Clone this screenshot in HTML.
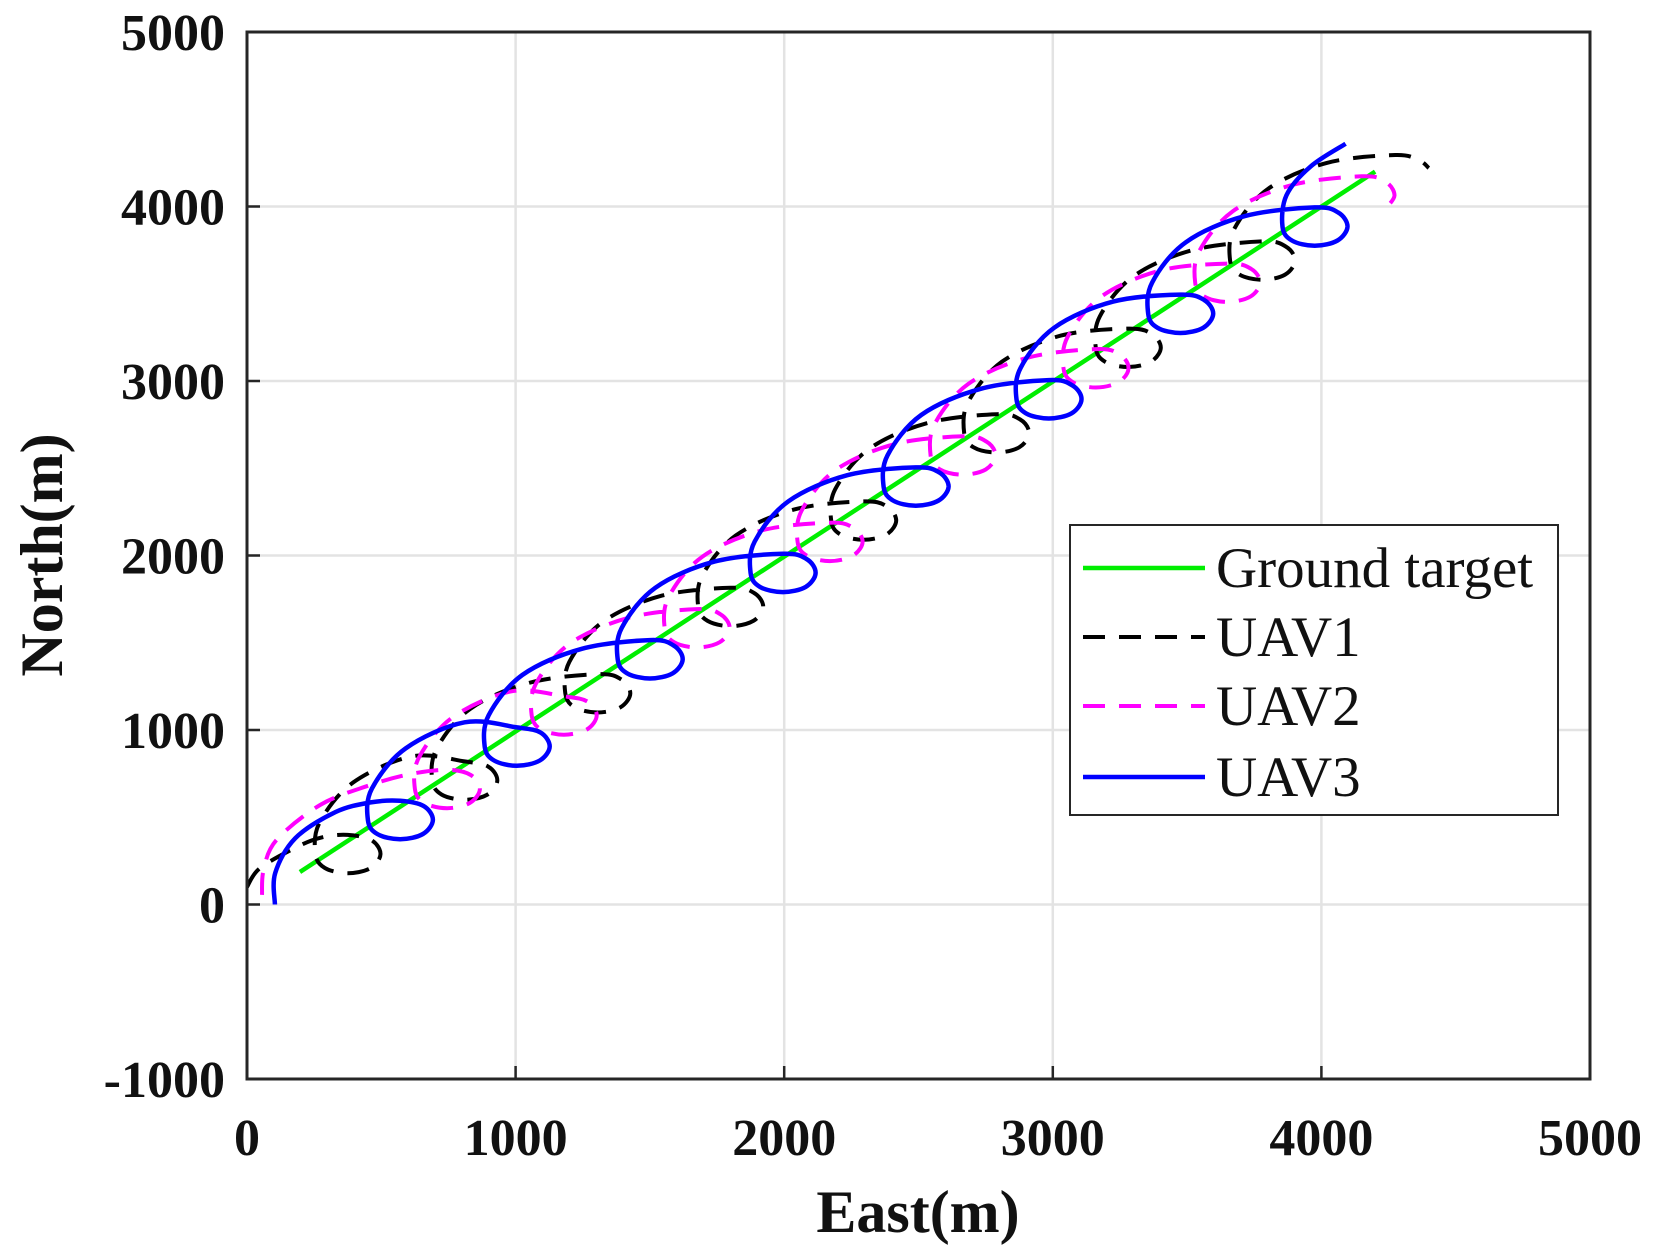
<!DOCTYPE html>
<html><head><meta charset="utf-8"><style>
html,body{margin:0;padding:0;background:#fff;}
svg{display:block;}
.tick{font-family:"Liberation Serif",serif;font-weight:bold;font-size:52px;fill:#111;}
.title{font-family:"Liberation Serif",serif;font-weight:bold;font-size:60px;fill:#111;}
.leg{font-family:"Liberation Serif",serif;font-size:57px;fill:#111;}
</style></head><body>
<svg id="chart" width="1653" height="1250" viewBox="0 0 1653 1250" xmlns="http://www.w3.org/2000/svg">
<defs><clipPath id="clip"><rect x="247" y="32" width="1343" height="1047"/></clipPath></defs>
<rect x="0" y="0" width="1653" height="1250" fill="#fff"/>
<g id="grid"></g>
<g id="series" clip-path="url(#clip)"></g>
<rect x="247" y="32" width="1343" height="1047" fill="none" stroke="#262626" stroke-width="3"/>
<g id="ticks"></g>
<text class="title" x="918" y="1232" text-anchor="middle">East(m)</text>
<text class="title" transform="translate(62,555) rotate(-90)" text-anchor="middle">North(m)</text>
<g id="legend">
<rect x="1070" y="525" width="488" height="290" fill="#fff" stroke="#262626" stroke-width="2"/>
<line x1="1083" y1="568" x2="1205" y2="568" stroke="#00ee00" stroke-width="4.5"/>
<text class="leg" x="1216" y="587">Ground target</text>
<line x1="1083" y1="637" x2="1205" y2="637" stroke="#000" stroke-width="4" stroke-dasharray="22,14"/>
<text class="leg" x="1216" y="656">UAV1</text>
<line x1="1083" y1="706" x2="1205" y2="706" stroke="#ff00ff" stroke-width="4" stroke-dasharray="22,14"/>
<text class="leg" x="1216" y="725">UAV2</text>
<line x1="1083" y1="777" x2="1205" y2="777" stroke="#0000ff" stroke-width="4.5"/>
<text class="leg" x="1216" y="796">UAV3</text>
</g>
</svg>
<script>
const xTicks = [0, 1000, 2000, 3000, 4000, 5000];
const yTicks = [-1000, 0, 1000, 2000, 3000, 4000, 5000];
const groundTarget = [[197,186],[4200,4200]];
const uav1 = [[0,100],[48,208],[186,330],[280,385],
[375,399],[463,369],[497,289],[460,209],[375,179],[290,209],[255,289],[270,469],[395,699],[615,849],
[810,820],[898,790],[932,710],[895,630],[810,600],[725,630],[690,710],[705,890],[830,1120],[1050,1270],
[1305,1320],[1393,1290],[1427,1210],[1390,1130],[1305,1100],[1220,1130],[1185,1210],[1200,1390],[1325,1620],[1545,1770],
[1800,1815],[1888,1785],[1922,1705],[1885,1625],[1800,1595],[1715,1625],[1680,1705],[1695,1885],[1820,2115],[2040,2265],
[2295,2310],[2383,2280],[2417,2200],[2380,2120],[2295,2090],[2210,2120],[2175,2200],[2190,2380],[2315,2610],[2535,2760],
[2790,2810],[2878,2780],[2912,2700],[2875,2620],[2790,2590],[2705,2620],[2670,2700],[2685,2880],[2810,3110],[3030,3260],
[3280,3300],[3368,3270],[3402,3190],[3365,3110],[3280,3080],[3195,3110],[3160,3190],[3175,3370],[3300,3600],[3520,3750],
[3780,3800],[3868,3770],[3902,3690],[3865,3610],[3780,3580],[3695,3610],[3660,3690],[3675,3870],[3800,4100],[4020,4250],
[4275,4295],[4363,4265],[4400,4220]];
const uav2 = [[56,55],[62,200],[110,370],[272,570],[450,680],[600,745],
[745,772],[833,742],[867,662],[830,582],[745,552],[660,582],[625,662],[640,842],[765,1072],[985,1222],
[1180,1193],[1268,1163],[1302,1083],[1265,1003],[1180,973],[1095,1003],[1060,1083],[1075,1263],[1200,1493],[1420,1643],
[1675,1693],[1763,1663],[1797,1583],[1760,1503],[1675,1473],[1590,1503],[1555,1583],[1570,1763],[1695,1993],[1915,2143],
[2170,2188],[2258,2158],[2292,2078],[2255,1998],[2170,1968],[2085,1998],[2050,2078],[2065,2258],[2190,2488],[2410,2638],
[2665,2683],[2753,2653],[2787,2573],[2750,2493],[2665,2463],[2580,2493],[2545,2573],[2560,2753],[2685,2983],[2905,3133],
[3160,3183],[3248,3153],[3282,3073],[3245,2993],[3160,2963],[3075,2993],[3040,3073],[3055,3253],[3180,3483],[3400,3633],
[3650,3673],[3738,3643],[3772,3563],[3735,3483],[3650,3453],[3565,3483],[3530,3563],[3545,3743],[3670,3973],[3890,4123],
[4150,4173],[4238,4143],[4272,4063],[4235,3983]];
const uav3 = [[104,0],[105,180],[180,380],[330,530],[460,585],
[570,594],[658,564],[692,484],[655,404],[570,374],[485,404],[450,484],[465,664],[590,894],[810,1044],
[1005,1015],[1093,985],[1127,905],[1090,825],[1005,795],[920,825],[885,905],[900,1085],[1025,1315],[1245,1465],
[1500,1515],[1588,1485],[1622,1405],[1585,1325],[1500,1295],[1415,1325],[1380,1405],[1395,1585],[1520,1815],[1740,1965],
[1995,2010],[2083,1980],[2117,1900],[2080,1820],[1995,1790],[1910,1820],[1875,1900],[1890,2080],[2015,2310],[2235,2460],
[2490,2505],[2578,2475],[2612,2395],[2575,2315],[2490,2285],[2405,2315],[2370,2395],[2385,2575],[2510,2805],[2730,2955],
[2985,3005],[3073,2975],[3107,2895],[3070,2815],[2985,2785],[2900,2815],[2865,2895],[2880,3075],[3005,3305],[3225,3455],
[3475,3495],[3563,3465],[3597,3385],[3560,3305],[3475,3275],[3390,3305],[3355,3385],[3370,3565],[3495,3795],[3715,3945],
[3975,3995],[4063,3965],[4097,3885],[4060,3805],[3975,3775],[3890,3805],[3855,3885],[3870,4065],[3960,4230],[4090,4360]];

const NS = "http://www.w3.org/2000/svg";
const X0 = 247, X1 = 1590, Y0 = 1079, Y1 = 32;
function sx(v){ return X0 + (v - 0) / 5000 * (X1 - X0); }
function sy(v){ return Y0 - (v + 1000) / 6000 * (Y0 - Y1); }

const grid = document.getElementById('grid');
const ticks = document.getElementById('ticks');
xTicks.forEach(function(t){
  const x = sx(t);
  if (t > 0 && t < 5000) {
    const g = document.createElementNS(NS, 'line');
    g.setAttribute('x1', x); g.setAttribute('x2', x); g.setAttribute('y1', Y1); g.setAttribute('y2', Y0);
    g.setAttribute('stroke', '#e3e3e3'); g.setAttribute('stroke-width', '2.5');
    
    
    grid.appendChild(g);
    const tk = document.createElementNS(NS, 'line');
    tk.setAttribute('x1', x); tk.setAttribute('x2', x); tk.setAttribute('y1', Y0); tk.setAttribute('y2', Y0 - 13);
    tk.setAttribute('stroke', '#262626'); tk.setAttribute('stroke-width', '2.5');
    
    
    ticks.appendChild(tk);
  }
  const tx = document.createElementNS(NS, 'text');
  tx.setAttribute('class', 'tick'); tx.setAttribute('x', x); tx.setAttribute('y', 1155);
  tx.setAttribute('text-anchor', 'middle');
  tx.textContent = t;
  
  
  ticks.appendChild(tx);
});
yTicks.forEach(function(t){
  const y = sy(t);
  if (t > -1000 && t < 5000) {
    const g = document.createElementNS(NS, 'line');
    g.setAttribute('x1', X0); g.setAttribute('x2', X1); g.setAttribute('y1', y); g.setAttribute('y2', y);
    g.setAttribute('stroke', '#e3e3e3'); g.setAttribute('stroke-width', '2.5');
    
    
    grid.appendChild(g);
    const tk = document.createElementNS(NS, 'line');
    tk.setAttribute('x1', X0); tk.setAttribute('x2', X0 + 13); tk.setAttribute('y1', y); tk.setAttribute('y2', y);
    tk.setAttribute('stroke', '#262626'); tk.setAttribute('stroke-width', '2.5');
    
    
    ticks.appendChild(tk);
  }
  const tx = document.createElementNS(NS, 'text');
  tx.setAttribute('class', 'tick'); tx.setAttribute('x', 225); tx.setAttribute('y', y + 18);
  tx.setAttribute('text-anchor', 'end');
  tx.textContent = t;
  
  
  ticks.appendChild(tx);
});

function smoothPath(data){
  const p = data.map(function(d){ return [sx(d[0]), sy(d[1])]; });
  let s = 'M' + p[0][0].toFixed(1) + ',' + p[0][1].toFixed(1);
  for (let i = 0; i < p.length - 1; i++) {
    const a = p[Math.max(0, i - 1)], b = p[i], c = p[i + 1], d = p[Math.min(p.length - 1, i + 2)];
    const c1x = b[0] + (c[0] - a[0]) / 6, c1y = b[1] + (c[1] - a[1]) / 6;
    const c2x = c[0] - (d[0] - b[0]) / 6, c2y = c[1] - (d[1] - b[1]) / 6;
    s += 'C' + c1x.toFixed(1) + ',' + c1y.toFixed(1) + ' ' + c2x.toFixed(1) + ',' + c2y.toFixed(1) + ' ' + c[0].toFixed(1) + ',' + c[1].toFixed(1);
  }
  return s;
}
const series = document.getElementById('series');

const gt = document.createElementNS(NS, 'path');
gt.setAttribute('d', 'M' + sx(groundTarget[0][0]) + ',' + sy(groundTarget[0][1]) + 'L' + sx(groundTarget[1][0]) + ',' + sy(groundTarget[1][1]));
gt.setAttribute('stroke', '#00ee00'); gt.setAttribute('stroke-width', '4.5'); gt.setAttribute('fill', 'none');


series.appendChild(gt);

const p1 = document.createElementNS(NS, 'path');
p1.setAttribute('d', smoothPath(uav1));
p1.setAttribute('stroke', '#000'); p1.setAttribute('stroke-width', '4'); p1.setAttribute('fill', 'none');
p1.setAttribute('stroke-dasharray', '22,14');


series.appendChild(p1);

const p2 = document.createElementNS(NS, 'path');
p2.setAttribute('d', smoothPath(uav2));
p2.setAttribute('stroke', '#ff00ff'); p2.setAttribute('stroke-width', '4'); p2.setAttribute('fill', 'none');
p2.setAttribute('stroke-dasharray', '22,14');


series.appendChild(p2);

const p3 = document.createElementNS(NS, 'path');
p3.setAttribute('d', smoothPath(uav3));
p3.setAttribute('stroke', '#0000ff'); p3.setAttribute('stroke-width', '4.5'); p3.setAttribute('fill', 'none');


series.appendChild(p3);
</script>
</body></html>
